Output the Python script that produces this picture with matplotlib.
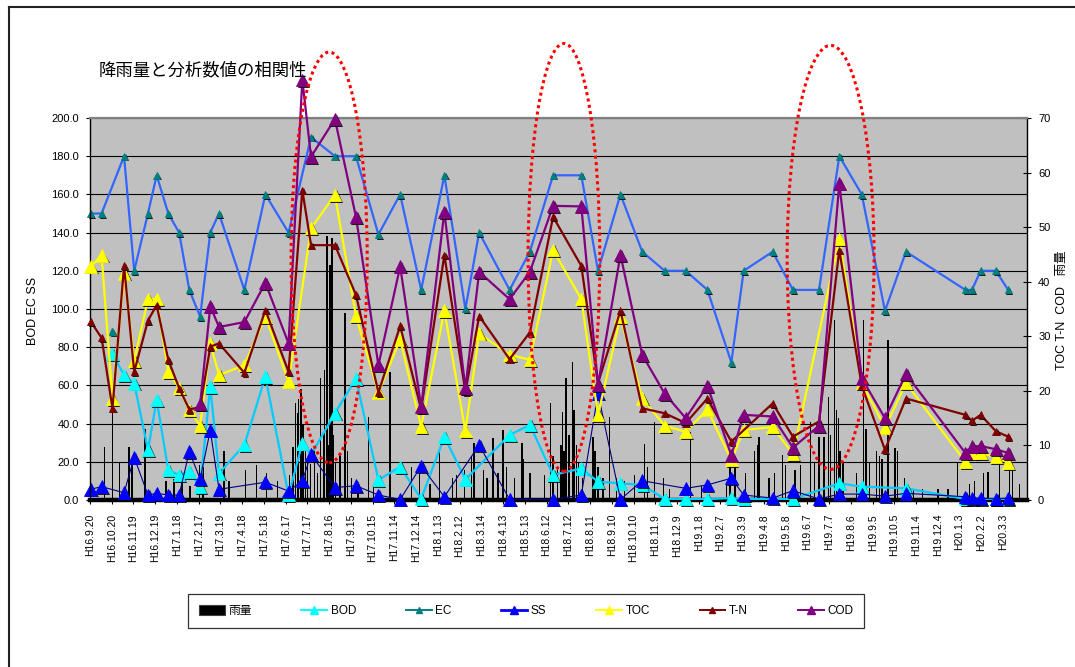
import numpy as np
import pandas as pd
import matplotlib
matplotlib.use("Agg")
import matplotlib.pyplot as plt
import matplotlib.dates as mdates
import matplotlib.patheffects as pe
from matplotlib.patches import Ellipse, Rectangle
from matplotlib.lines import Line2D

plt.rcParams['font.family'] = ['Liberation Sans', 'Noto Sans CJK JP', 'DejaVu Sans']

nan = np.nan

# ---- x axis: tick labels (Heisei era dates, every 30 days) ----
x_labels = ["H16.9.20", "H16.10.20", "H16.11.19", "H16.12.19", "H17.1.18", "H17.2.17",
            "H17.3.19", "H17.4.18", "H17.5.18", "H17.6.17", "H17.7.17", "H17.8.16",
            "H17.9.15", "H17.10.15", "H17.11.14", "H17.12.14", "H18.1.13", "H18.2.12",
            "H18.3.14", "H18.4.13", "H18.5.13", "H18.6.12", "H18.7.12", "H18.8.11",
            "H18.9.10", "H18.10.10", "H18.11.9", "H18.12.9", "H19.1.8", "H19.2.7",
            "H19.3.9", "H19.4.8", "H19.5.8", "H19.6.7", "H19.7.7", "H19.8.6",
            "H19.9.5", "H19.10.5", "H19.11.4", "H19.12.4", "H20.1.3", "H20.2.2",
            "H20.3.3"]
x_end = "2008-04-05"

# ---- water-quality sampling dates ----
sample_dates = ["2004-09-21", "2004-10-06", "2004-10-21", "2004-11-06", "2004-11-20", "2004-12-09", "2004-12-21",
                "2005-01-06", "2005-01-21", "2005-02-04", "2005-02-19", "2005-03-05", "2005-03-17", "2005-04-21",
                "2005-05-20", "2005-06-21", "2005-07-10", "2005-07-22", "2005-08-24", "2005-09-22", "2005-10-23",
                "2005-11-22", "2005-12-21", "2006-01-22", "2006-02-20", "2006-03-11", "2006-04-22", "2006-05-20",
                "2006-06-21", "2006-07-30", "2006-08-22", "2006-09-22", "2006-10-22", "2006-11-22", "2006-12-21",
                "2007-01-20", "2007-02-22", "2007-03-11", "2007-04-20", "2007-05-18", "2007-06-23", "2007-07-21",
                "2007-08-21", "2007-09-22", "2007-10-21", "2008-01-11", "2008-01-20", "2008-02-01", "2008-02-22",
                "2008-03-10"]

# left axis series (BOD, EC, SS)
bod = [nan, nan, 76.5, 65.4, 61.1, 26.2, 52.4,
       15.7, 13.1, 14.8, 7.0, 59.3, 14.0, 28.8,
       64.6, 2.6, 29.7, 23.6, 45.4, 63.5, 10.5,
       17.4, 0.6, 33.1, 10.8, nan, 34.0, 39.3,
       13.1, 16.5, 9.6, 8.7, 7.9, 0.5, 0.5,
       0.5, 1.0, 0.5, nan, 0.5, nan, 8.7,
       7.0, nan, 6.1, 0.5, 0.5, 0.5, 0.5,
       0.5]
ec = [150, 150, nan, 180, 120, 150, 170,
      150, 140, 110, 96, 140, 150, 110,
      160, 140, nan, 190, 180, 180, 139,
      160, 110, 170, 100, 140, 110, 130,
      170, 170, 120, 160, 130, 120, 120,
      110, 72, 120, 130, 110, 110, 180,
      160, 99, 130, 110, 110, 120, 120,
      110]
ec_single_date = ["2004-10-21"]
ec_single = [88]
ss = [5.6, 7.0, nan, 3.8, 22.3, 2.6, 3.5,
      2.6, 2.6, 25.3, 11.0, 36.5, 5.6, nan,
      9.3, 4.7, 10.0, 23.8, 6.5, 7.5, 2.6,
      0.3, 17.8, 1.7, nan, 28.8, 0.3, nan,
      0.3, 2.6, 55.8, 0.3, 10.1, nan, 6.1,
      7.9, 11.4, 2.6, 1.0, 4.9, 0.5, 3.1,
      3.1, 2.0, 3.5, 1.7, 1.0, 1.0, 0.5,
      1.0]

# right axis series (TOC, T-N, COD)
toc = [42.8, 44.8, 18.5, 41.5, 25.5, 36.8, 36.8,
       23.5, 20.5, 16.5, 13.6, 28.7, 22.9, 24.7,
       33.6, 21.7, nan, 49.8, 55.9, 33.7, 19.7,
       29.4, 13.4, 34.7, 12.6, 30.5, 26.6, 25.7,
       45.8, 36.8, 15.6, 33.6, 18.6, 13.6, 12.5,
       16.6, 7.3, 12.8, 13.4, 8.4, nan, 47.8,
       21.4, 13.3, 21.4, 7.0, 8.6, 8.6, 7.9,
       6.8]
tn = [32.7, 29.7, 16.8, 42.9, 23.5, 32.9, 35.7,
      25.7, 20.5, 16.6, 17.0, 28.1, 28.7, 23.3,
      34.8, 23.5, 56.8, 46.7, 46.7, 37.6, 19.7,
      31.9, 16.6, 44.9, 19.8, 33.7, 25.8, 30.7,
      51.9, 42.9, 21.4, 34.7, 16.8, 15.9, 14.1,
      18.6, 10.7, nan, 17.7, 11.6, 14.4, 45.8,
      20.9, 9.2, 18.6, 15.6, 14.5, 15.6, 12.6,
      11.6]
cod = [nan, nan, nan, nan, nan, nan, nan,
       nan, nan, nan, 17.6, 35.5, 31.7, 32.6,
       39.8, 28.7, 77.0, 62.9, 69.8, 51.9, 24.7,
       42.8, 17.1, 52.8, 20.5, 41.8, 36.8, 41.8,
       53.9, 53.8, 21.1, 44.9, 26.6, 19.5, 15.0,
       20.9, 8.2, 15.6, 15.3, 9.6, 13.6, 58.0,
       22.3, 15.0, 23.1, 8.6, 9.8, 9.9, 9.3,
       8.6]

# ---- daily rainfall (mm), right axis ----
rain_dates = ["2004-10-10", "2004-10-21", "2004-10-31", "2004-11-13", "2004-11-17", "2004-12-05",
              "2005-01-03", "2005-01-14", "2005-01-25", "2005-02-05", "2005-02-18", "2005-02-23",
              "2005-03-24", "2005-03-31", "2005-04-23", "2005-05-08", "2005-05-22", "2005-06-06",
              "2005-06-22", "2005-06-27", "2005-07-01", "2005-07-03", "2005-07-05", "2005-07-08",
              "2005-07-11", "2005-07-14", "2005-07-17", "2005-07-21", "2005-07-27", "2005-07-31",
              "2005-08-04", "2005-08-08", "2005-08-10", "2005-08-13", "2005-08-15", "2005-08-17",
              "2005-08-20", "2005-08-22", "2005-08-25", "2005-08-31", "2005-09-07", "2005-09-10",
              "2005-09-16", "2005-09-25", "2005-10-09", "2005-10-16", "2005-11-08", "2005-12-08",
              "2005-12-19", "2006-01-02", "2006-01-15", "2006-02-02", "2006-02-08", "2006-02-19",
              "2006-02-28", "2006-03-04", "2006-03-17", "2006-03-22", "2006-03-30", "2006-04-06",
              "2006-04-13", "2006-04-18", "2006-04-29", "2006-05-09", "2006-05-11", "2006-05-20",
              "2006-06-09", "2006-06-17", "2006-06-21", "2006-06-27", "2006-07-02", "2006-07-04",
              "2006-07-06", "2006-07-09", "2006-07-13", "2006-07-18", "2006-07-20", "2006-07-23",
              "2006-07-26", "2006-08-01", "2006-08-15", "2006-08-18", "2006-08-22", "2006-08-29",
              "2006-09-07", "2006-09-17", "2006-09-28", "2006-10-11", "2006-10-25", "2006-10-29",
              "2006-11-08", "2006-11-20", "2006-11-29", "2006-12-28", "2007-01-12", "2007-02-15",
              "2007-02-19", "2007-02-21", "2007-02-27", "2007-03-14", "2007-03-26", "2007-03-30",
              "2007-04-01", "2007-04-15", "2007-04-23", "2007-05-04", "2007-05-08", "2007-05-21",
              "2007-05-28", "2007-06-11", "2007-06-17", "2007-06-23", "2007-06-30", "2007-07-06",
              "2007-07-09", "2007-07-14", "2007-07-17", "2007-07-20", "2007-07-22", "2007-07-26",
              "2007-08-14", "2007-08-23", "2007-08-27", "2007-09-01", "2007-09-10", "2007-09-14",
              "2007-09-18", "2007-09-26", "2007-10-06", "2007-10-09", "2007-10-19", "2007-10-31",
              "2007-11-13", "2007-12-04", "2007-12-18", "2007-12-31", "2008-01-17", "2008-01-24",
              "2008-02-05", "2008-02-11", "2008-02-27", "2008-03-12", "2008-03-16", "2008-03-26"]
rain_mm = [9.8, 16.5, 6.8, 9.8, 7.5, 13.1,
           3.5, 3.8, 4.0, 2.5, 6.4, 6.0,
           8.9, 3.5, 5.5, 6.4, 5.0, 3.5,
           4.5, 9.8, 17.8, 16.0, 18.5, 20.4,
           14.0, 9.8, 7.0, 6.6, 9.8, 5.0,
           22.3, 12.0, 23.8, 48.3, 10.0, 43.1,
           48.0, 12.0, 7.0, 8.5, 34.2, 8.9,
           4.0, 3.0, 15.3, 3.0, 23.5, 6.0,
           6.2, 3.0, 9.2, 4.0, 4.5, 5.5,
           7.9, 10.5, 5.5, 4.0, 11.3, 5.0,
           12.8, 6.0, 4.0, 10.4, 7.5, 5.0,
           4.5, 17.7, 8.0, 6.0, 10.0, 16.2,
           9.0, 22.3, 12.0, 25.3, 16.5, 10.0,
           7.0, 4.0, 11.5, 9.0, 6.0, 4.0,
           15.3, 4.0, 3.5, 4.5, 10.3, 6.0,
           14.3, 4.0, 2.0, 12.5, 2.5, 3.0,
           6.0, 8.6, 8.0, 5.0, 8.9, 10.1,
           11.6, 4.0, 5.0, 8.2, 6.5, 5.5,
           6.5, 14.3, 7.0, 11.6, 11.6, 18.9,
           12.0, 33.0, 16.5, 15.0, 9.0, 7.0,
           5.0, 33.0, 13.0, 7.0, 9.0, 8.0,
           7.5, 29.4, 9.5, 9.0, 4.0, 2.0,
           2.0, 2.0, 2.0, 6.7, 3.0, 3.5,
           4.9, 5.2, 7.9, 6.7, 5.5, 3.0]

# highlighted rainy periods: (centre date, centre value on left axis, width in days, height)
highlight_centres = ["2005-08-16", "2006-07-06", "2007-07-09"]
highlight_levels = [127, 127, 127]
highlight_widths = [105, 99, 120]
highlight_heights = [215, 224, 222]

title = "降雨量と分析数値の相関性"
left_label = "BOD EC SS"
right_label = "TOC T-N  COD   雨量"


def heisei(s):
    y, m, d = s[1:].split(".")
    return pd.Timestamp(int(y) + 1988, int(m), int(d))


tick_dates = [heisei(s) for s in x_labels]
dates = pd.to_datetime(sample_dates)

W, H = 1075, 667
fig = plt.figure(figsize=(W / 100, H / 100), dpi=100)
fig.patch.set_facecolor("white")

# outer chart frame (left and top edges)
fig.add_artist(Line2D([9 / W, 9 / W], [0, 1 - 7 / H], color="#222222", lw=1.5))
fig.add_artist(Line2D([9 / W, 1], [1 - 7 / H, 1 - 7 / H], color="#222222", lw=1.5))

ax = fig.add_axes([90 / W, 1 - 500 / H, 937 / W, 382 / H])
ax.set_facecolor("#C0C0C0")
ax2 = ax.twinx()

ax.set_xlim(tick_dates[0], pd.Timestamp(x_end))
ax.set_ylim(0, 200)
ax2.set_ylim(0, 70)

ax.set_yticks(np.arange(0, 201, 20))
ax.set_yticklabels([f"{v:.1f}" for v in np.arange(0, 201, 20)], fontsize=8)
ax.yaxis.grid(True, color="black", lw=0.8)
ax.set_axisbelow(True)
ax.tick_params(axis="y", direction="out", length=3, pad=5, color="black")
ax2.set_yticks(np.arange(0, 71, 10))
ax2.set_yticklabels([str(v) for v in range(0, 71, 10)], fontsize=8)
ax2.tick_params(axis="y", direction="inout", length=6, pad=5, color="black")

ax.set_xticks(tick_dates)
ax.set_xticklabels(x_labels, rotation=90, fontsize=7.5)
ax.tick_params(axis="x", direction="out", length=3, pad=7)
ax2.set_xticks(tick_dates)

for sp in ax.spines.values():
    sp.set_visible(False)
ax2.spines["top"].set_color("#808080")
ax2.spines["top"].set_linewidth(1.6)
ax2.spines["bottom"].set_color("black")
ax2.spines["bottom"].set_linewidth(3.2)
ax2.spines["bottom"].set_zorder(1.5)
ax2.spines["left"].set_color("black")
ax2.spines["left"].set_linewidth(1.0)
ax2.spines["right"].set_color("black")
ax2.spines["right"].set_linewidth(1.0)

# rainfall bars (right axis)
ax2.bar(pd.to_datetime(rain_dates), rain_mm, width=1.8, color="black", lw=0, zorder=1)

shadow = [pe.SimplePatchShadow(offset=(1.2, -1.2), shadow_rgbFace="black", alpha=0.85), pe.Normal()]


def draw_series(values, trans, line_color, lw, mcolor, msize, clip=True, z=2):
    v = np.asarray(values, dtype=float)
    m = ~np.isnan(v)
    ax2.plot(dates[m], v[m], color=line_color, lw=lw, transform=trans,
             solid_joinstyle="miter", clip_on=clip, zorder=z)
    ax2.plot(dates[m], v[m], ls="none", marker="^", ms=msize, mfc=mcolor, mec=mcolor,
             mew=0.6, transform=trans, clip_on=False, zorder=z + 0.1, path_effects=shadow)


left_t = ax.transData
right_t = ax2.transData
draw_series(bod, left_t, "#00CCFF", 1.6, "#00FFFF", 9, z=2)
draw_series(ec, left_t, "#3366FF", 1.6, "#008080", 5, z=2.2)
ax2.plot(pd.to_datetime(ec_single_date), ec_single, ls="none", marker="^", ms=5,
         mfc="#008080", mec="#008080", transform=left_t, zorder=2.3, path_effects=shadow)
draw_series(ss, left_t, "#000080", 0.8, "#0000FF", 9, z=2.4)
draw_series(toc, right_t, "#FFFF00", 1.6, "#FFFF00", 9, z=2.6)
draw_series(tn, right_t, "#800000", 1.6, "#800000", 5, z=2.8)
draw_series(cod, right_t, "#800080", 1.6, "#800080", 9, clip=False, z=3.0)

ax2.set_ylim(0, 70)
ax2.set_xlim(tick_dates[0], pd.Timestamp(x_end))

# dotted ellipses around the rainy periods
for c, lvl, w, h in zip(highlight_centres, highlight_levels, highlight_widths, highlight_heights):
    e = Ellipse((mdates.date2num(pd.Timestamp(c)), lvl), w, h, transform=left_t,
                fill=False, edgecolor="#FF0000", lw=2.2, linestyle=(0, (1, 1.1)),
                clip_on=False, zorder=4)
    ax2.add_patch(e)

# titles
fig.text(99 / W, 1 - 70 / H, title, fontsize=12.5, ha="left", va="center",
         family=["Noto Sans CJK JP"])
fig.text(33 / W, 1 - 311 / H, left_label, fontsize=9, rotation=90, ha="center", va="center")
fig.text(1062 / W, 1 - 310 / H, right_label, fontsize=9, rotation=90, ha="center", va="center")

# legend
handles = [
    Rectangle((0, 0), 1, 1, facecolor="black", edgecolor="#404040", lw=0.8),
    Line2D([], [], color="#00FFFF", lw=1.4, marker="^", ms=6, mfc="#00FFFF", mec="#00FFFF"),
    Line2D([], [], color="#008080", lw=1.4, marker="^", ms=4, mfc="#008080", mec="#008080"),
    Line2D([], [], color="#0000FF", lw=2.0, marker="^", ms=6, mfc="#0000FF", mec="#0000FF"),
    Line2D([], [], color="#FFFF00", lw=1.4, marker="^", ms=6, mfc="#FFFF00", mec="#FFFF00"),
    Line2D([], [], color="#800000", lw=1.4, marker="^", ms=4, mfc="#800000", mec="#800000"),
    Line2D([], [], color="#800080", lw=1.4, marker="^", ms=6, mfc="#800080", mec="#800080"),
]
labels = ["雨量", "BOD", "EC", "SS", "TOC", "T-N", "COD"]
leg = fig.legend(handles, labels, loc="center", bbox_to_anchor=(526 / W, 1 - 611 / H),
                 ncol=7, fontsize=8.5, frameon=True, fancybox=False, edgecolor="black",
                 handlelength=2.2, handletextpad=0.3, columnspacing=4.2, borderpad=0.9,
                 handleheight=0.9)
leg.get_frame().set_linewidth(0.9)

fig.savefig("out.png", dpi=100, facecolor="white")
